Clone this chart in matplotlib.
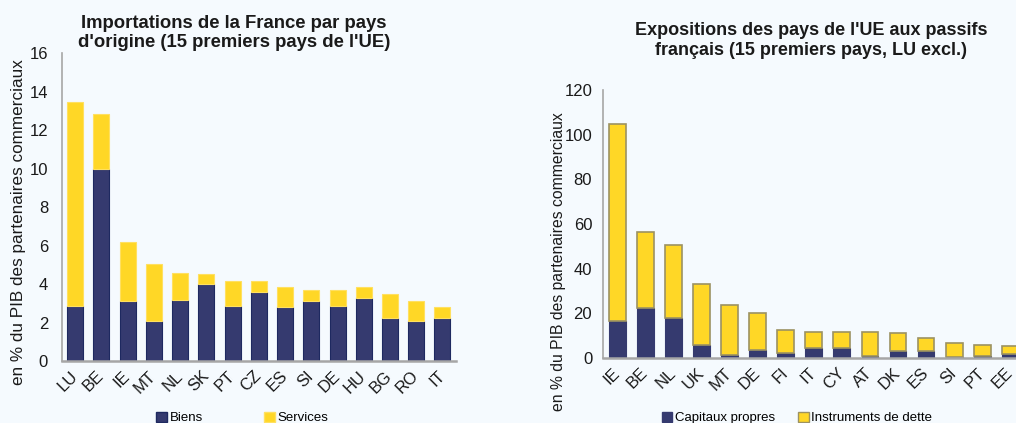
import matplotlib
matplotlib.use("Agg")
import matplotlib.pyplot as plt
import numpy as np
from matplotlib.patches import Patch

plt.rcParams['font.family'] = ['Liberation Sans', 'DejaVu Sans']

# Left chart data
pays_imp = ["LU", "BE", "IE", "MT", "NL", "SK", "PT", "CZ", "ES", "SI", "DE", "HU", "BG", "RO", "IT"]
biens = [2.85, 9.95, 3.12, 2.08, 3.19, 4.02, 2.88, 3.57, 2.82, 3.12, 2.88, 3.26, 2.22, 2.08, 2.22]
total_imp = [13.45, 12.85, 6.17, 5.06, 4.59, 4.54, 4.16, 4.16, 3.84, 3.71, 3.71, 3.84, 3.48, 3.10, 2.81]
services = [t - b for t, b in zip(total_imp, biens)]

# Right chart data
pays_exp = ["IE", "BE", "NL", "UK", "MT", "DE", "FI", "IT", "CY", "AT", "DK", "ES", "SI", "PT", "EE"]
capitaux = [16.7, 22.5, 18.0, 5.7, 1.2, 3.7, 2.4, 4.5, 4.5, 1.0, 3.0, 3.0, 0.3, 1.0, 1.8]
total_exp = [104.9, 56.3, 50.6, 33.1, 23.9, 20.2, 12.4, 11.6, 11.6, 11.6, 11.0, 9.1, 6.6, 5.8, 5.2]
dette = [t - c for t, c in zip(total_exp, capitaux)]

BG = "#F5FAFE"
NAVY = "#353A6F"
NAVY_EDGE = "#1E2960"
YEL = "#FFD726"
YEL_EDGE = "#FFE060"
YEL_EDGE2 = "#9C9262"
SPINE = "#A6A6A6"
TXT = "#1A1A1A"

fig = plt.figure(figsize=(10.16, 4.23), dpi=100, facecolor=BG)

# ---------- Left chart ----------
ax1 = fig.add_axes([62/1016, 1-361/423, 393.6/1016, 308/423], facecolor=BG)
x1 = np.arange(len(pays_imp))
ax1.bar(x1, biens, width=0.61, color=NAVY, edgecolor=NAVY_EDGE, linewidth=0.8)
ax1.bar(x1, services, bottom=biens, width=0.61, color=YEL, edgecolor=YEL_EDGE, linewidth=0.8)
ax1.set_xlim(-0.5, len(pays_imp) - 0.5)
ax1.set_ylim(0, 16)
ax1.set_yticks(np.arange(0, 17, 2))
ax1.set_xticks(x1)
ax1.set_xticklabels(pays_imp, rotation=45, ha='right', va='center', rotation_mode='anchor')
ax1.set_ylabel("en % du PIB des partenaires commerciaux", fontsize=12.3, color=TXT)
ax1.yaxis.set_label_coords((26 - 62) / 393.6, (361 - 222) / 308)
ax1.tick_params(axis='y', pad=10)

# ---------- Right chart ----------
ax2 = fig.add_axes([603.3/1016, 1-358/423, 421/1016, 268/423], facecolor=BG)
x2 = np.arange(len(pays_exp))
ax2.bar(x2, capitaux, width=0.6, color=NAVY, edgecolor=NAVY, linewidth=0.8)
ax2.bar(x2, dette, bottom=capitaux, width=0.6, color=YEL, edgecolor=YEL_EDGE2, linewidth=1.2)
ax2.set_xlim(-0.5, len(pays_exp) - 0.5)
ax2.set_ylim(0, 120)
ax2.set_yticks(np.arange(0, 121, 20))
ax2.set_xticks(x2)
ax2.set_xticklabels(pays_exp, rotation=45, ha='right', va='center', rotation_mode='anchor')
ax2.set_ylabel("en % du PIB des partenaires commerciaux", fontsize=11.3, color=TXT)
ax2.yaxis.set_label_coords((566 - 603.3) / 421, (358 - 262) / 268)
ax2.tick_params(axis='y', pad=8)

for ax in (ax1, ax2):
    for s in ("top", "right"):
        ax.spines[s].set_visible(False)
    ax.spines["left"].set_color(SPINE)
    ax.spines["bottom"].set_color(SPINE)
    ax.spines["left"].set_linewidth(1.2)
    ax.spines["bottom"].set_linewidth(1.8)
    ax.tick_params(axis='both', length=0, labelsize=12, colors=TXT)
    ax.tick_params(axis='x', pad=9)

# Titles
fig.text(234/1016, 1-33/423, "Importations de la France par pays\nd'origine (15 premiers pays de l'UE)",
         ha='center', va='center', fontsize=13.3, fontweight='bold', color=TXT, linespacing=1.2)
fig.text(811/1016, 1-40.5/423, "Expositions des pays de l'UE aux passifs\nfrançais (15 premiers pays, LU excl.)",
         ha='center', va='center', fontsize=13, fontweight='bold', color=TXT, linespacing=1.2)

# Legends
h1 = [Patch(facecolor=NAVY, edgecolor=NAVY_EDGE), Patch(facecolor=YEL, edgecolor=YEL_EDGE)]
fig.legend(h1, ["Biens", "Services"], loc='center', bbox_to_anchor=(242.5/1016, 1-418/423),
           ncol=2, frameon=False, fontsize=9.5, handlelength=0.8, handleheight=0.8,
           handletextpad=0.2, columnspacing=4.67)
h2 = [Patch(facecolor=NAVY, edgecolor=NAVY), Patch(facecolor=YEL, edgecolor=YEL_EDGE2)]
fig.legend(h2, ["Capitaux propres", "Instruments de dette"], loc='center',
           bbox_to_anchor=(797/1016, 1-418/423),
           ncol=2, frameon=False, fontsize=9.5, handlelength=0.8, handleheight=0.8,
           handletextpad=0.2, columnspacing=1.74)

fig.savefig("out.png", dpi=100, facecolor=BG)
